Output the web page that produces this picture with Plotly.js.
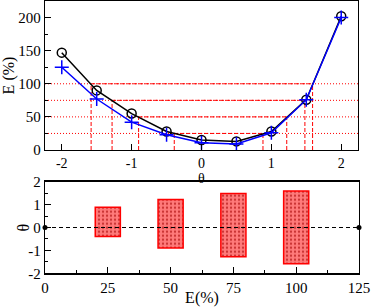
<!DOCTYPE html>
<html><head><meta charset="utf-8">
<script src="https://cdn.plot.ly/plotly-3.0.1.min.js"></script>
<style>html,body{margin:0;padding:0;background:#fff}#chart{width:371px;height:307px}</style>
</head><body><div id="chart"></div>
<script>
const theta = [-2, -1.5, -1, -0.5, 0, 0.5, 1, 1.5, 2];
const eBlack = [147, 90, 55, 28, 15, 13, 28, 76, 202];
const eBlue = [125, 77, 42, 23, 11, 9, 26, 76, 200];
const levels = [25, 50, 75, 100];
const thetaLow = [-0.39, -0.9, -1.28, -1.58];
const thetaHigh = [0.88, 1.22, 1.48, 1.59];
const thetaTicks = [-2, -1, 0, 1, 2];
const thetaTickText = ['-2', '-1', '0', '1', '2'];
const eTicks = [0, 50, 100, 150, 200];
const eBarTicks = [0, 25, 50, 75, 100, 125];
const eBarRange = [0, 125];

const FONT = 'Liberation Serif';
const RED = '#ff0000';

const vx = [], vy = [];
const hx = [], hy = [];
levels.forEach((e, i) => {
  vx.push(thetaLow[i], thetaLow[i], null, thetaHigh[i], thetaHigh[i], null);
  vy.push(0, e, null, 0, e, null);
  hx.push(thetaLow[i], thetaHigh[i], null);
  hy.push(e, e, null);
});

const traces = [
  {x: vx, y: vy, mode: 'lines', line: {color: RED, width: 1, dash: '4px,2px'}, xaxis: 'x', yaxis: 'y', hoverinfo: 'skip'},
  {x: hx, y: hy, mode: 'lines', line: {color: RED, width: 1, dash: '4px,2px'}, xaxis: 'x', yaxis: 'y', hoverinfo: 'skip'},
  {x: theta, y: eBlack, mode: 'lines+markers', line: {color: '#000', width: 1.5},
   marker: {symbol: 'circle-open', size: 9, color: '#000', line: {width: 1.5, color: '#000'}}, xaxis: 'x', yaxis: 'y'},
  {x: theta, y: eBlue, mode: 'lines+markers', line: {color: '#0000ff', width: 1.5},
   marker: {symbol: 'cross-thin-open', size: 10, color: '#0000ff', line: {width: 1.5, color: '#0000ff'}}, xaxis: 'x', yaxis: 'y'},
  {x: eBarRange, y: [0, 0], mode: 'lines+markers', line: {color: '#000', width: 1, dash: '4px,3px'},
   marker: {size: 5, color: '#000'}, xaxis: 'x2', yaxis: 'y2', cliponaxis: false},
  {type: 'bar', x: levels, base: thetaLow, y: levels.map((e, i) => thetaHigh[i] - thetaLow[i]), width: 10,
   marker: {color: '#ff7a7a', line: {color: RED, width: 1.5},
            pattern: {shape: '.', bgcolor: '#ff7a7a', fgcolor: '#c83232', size: 4, solidity: 0.25}},
   xaxis: 'x2', yaxis: 'y2'}
];

const shapes = levels.map(e => ({type: 'line', xref: 'x domain', x0: 0, x1: 1, yref: 'y', y0: e, y1: e,
  line: {color: RED, width: 1, dash: '1px,2px'}, layer: 'below'}));

const axBase = {showline: true, mirror: true, linecolor: '#000', linewidth: 1.3, ticks: 'inside', ticklen: 6,
  tickwidth: 1, tickcolor: '#000', showgrid: false, zeroline: false, tickfont: {family: FONT, size: 15, color: '#000'}};

const layout = {
  width: 371, height: 307, margin: {l: 0, r: 0, t: 0, b: 0}, showlegend: false,
  paper_bgcolor: '#fff', plot_bgcolor: '#fff', font: {family: FONT, color: '#000'},
  xaxis: Object.assign({}, axBase, {domain: [45/371, 358/371], range: [-2.24, 2.24], tickvals: thetaTicks, ticktext: thetaTickText,
    anchor: 'y', tickfont: {family: FONT, size: 14, color: '#000'}}),
  yaxis: Object.assign({}, axBase, {domain: [157/307, 306/307], range: [0, 225], tickvals: eTicks,
    minor: {dtick: 25, ticks: 'inside', ticklen: 3, tickcolor: '#000'}, anchor: 'x',
    title: {text: 'E (%)', font: {family: FONT, size: 16}, standoff: 6}}),
  xaxis2: Object.assign({}, axBase, {domain: [45/371, 359/371], range: eBarRange, tickvals: eBarTicks, anchor: 'y2',
    minor: {dtick: 12.5, ticks: 'inside', ticklen: 3, tickcolor: '#000'},
    title: {text: 'E(%)', font: {family: FONT, size: 16}, standoff: 0}}),
  yaxis2: Object.assign({}, axBase, {domain: [33.7/307, 125.3/307], range: [-2, 2], tickvals: thetaTicks, ticktext: thetaTickText,
    minor: {dtick: 0.5, ticks: 'inside', ticklen: 3, tickcolor: '#000'}, anchor: 'x2'}),
  annotations: [
    {text: 'θ', xref: 'x domain', x: 0.5, yref: 'paper', y: (307 - 178) / 307, yanchor: 'middle',
     showarrow: false, font: {family: FONT, size: 14, color: '#000'}},
    {text: 'θ', xref: 'paper', x: 23 / 371, xanchor: 'center', yref: 'y2 domain', y: 0.5, yanchor: 'middle',
     textangle: -90, showarrow: false, font: {family: FONT, size: 16, color: '#000'}}
  ],
  shapes: shapes,
  bargap: 0
};

Plotly.newPlot('chart', traces, layout, {staticPlot: true, displayModeBar: false});
</script></body></html>
